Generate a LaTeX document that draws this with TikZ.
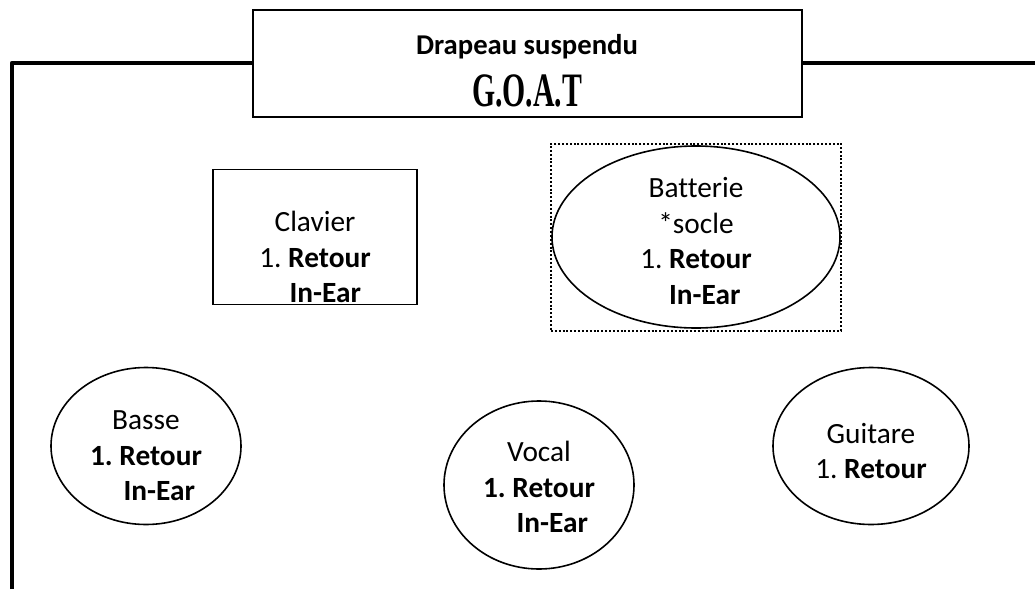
\documentclass[tikz,border=0pt]{standalone}
\usepackage{fontspec}
\setmainfont[Ligatures={NoCommon}]{Carlito}
\newfontfamily\goatfont{Liberation Serif}
\usetikzlibrary{shapes.geometric}
\frenchspacing
\begin{document}
\begin{tikzpicture}[x=0.75pt,y=-0.75pt,
  thin line/.style={line width=1.2pt},
  txt/.style={align=center,font=\fontsize{22}{26.7}\selectfont,inner sep=0pt},
  boxnode/.style={draw,thin line,rectangle,txt},
  ell/.style={draw,thin line,ellipse,txt}]
\useasboundingbox (0,0) rectangle (1035,589);
% title box
\node[boxnode,minimum width=549*0.75pt,minimum height=107*0.75pt] (title) at (527.5,63.5) {};
\node[txt,font=\fontsize{21.5}{26}\selectfont\bfseries] (drap) at (527,47) {Drapeau suspendu};
\node[txt] (goat) at (527,91) {\scalebox{0.62}[1]{\goatfont\fontsize{36}{36}\selectfont\bfseries G.O.A.T}};
% stage frame
\coordinate (bl) at (12,589);
\coordinate (tl) at (12,63);
\coordinate (tr) at (1035,63);
\draw[line width=3.4pt,line join=round] (bl) -- (tl) -- (tl -| title.west);
\draw[line width=3.4pt] (tl -| title.east) -- (tr);
% Clavier
\node[boxnode,minimum width=204*0.75pt,minimum height=135*0.75pt] (clavier) at (315,237) {};
\node[txt] (clavtxt) at (315,257) {Clavier\\1. \textbf{Retour}\\\hspace*{0.7em}\textbf{In-Ear}};
% Batterie
\node[draw,line width=1.5pt,dash pattern=on 1.5pt off 1.4pt,minimum width=290*0.75pt,minimum height=187*0.75pt,inner sep=0pt] (socle) at (696,237) {};
\node[ell,minimum width=288*0.75pt,minimum height=182*0.75pt] (batterie) at (696,237) {};
\node[txt] (battxt) at (696,241) {Batterie\\*socle\\1. \textbf{Retour}\\\hspace*{0.6em}\textbf{In-Ear}};
% Basse
\node[ell,minimum width=190*0.75pt,minimum height=157*0.75pt] (basse) at (146,446) {};
\node[txt] (bassetxt) at (146,456) {Basse\\\textbf{1. Retour}\\\hspace*{0.9em}\textbf{In-Ear}};
% Vocal
\node[ell,minimum width=190*0.75pt,minimum height=168*0.75pt] (vocal) at (539,485) {};
\node[txt] (vocaltxt) at (539,487) {Vocal\\\textbf{1. Retour}\\\hspace*{0.9em}\textbf{In-Ear}};
% Guitare
\node[ell,minimum width=196*0.75pt,minimum height=157*0.75pt] (guitare) at (871,446) {};
\node[txt] (guitxt) at (871,451) {Guitare\\1. \textbf{Retour}};
\end{tikzpicture}
\end{document}
